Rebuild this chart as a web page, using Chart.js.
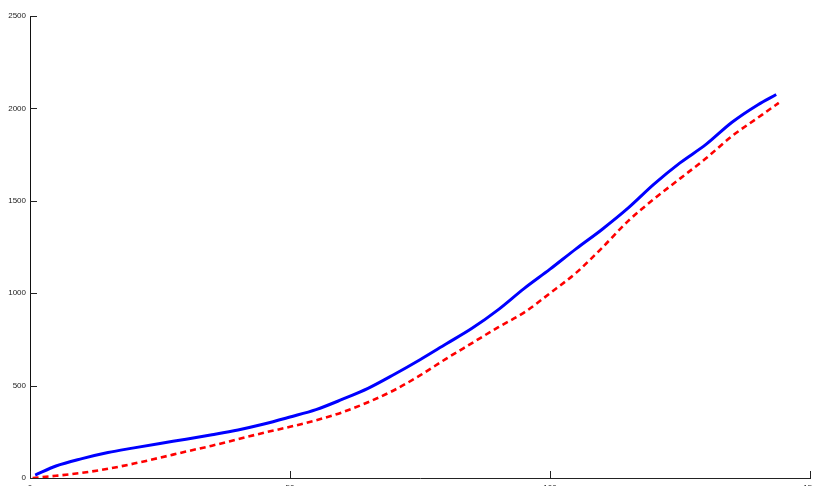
<!DOCTYPE html>
<html>
<head>
<meta charset="utf-8">
<script src="https://cdn.jsdelivr.net/npm/chart.js@4"></script>
<style>
    html, body { margin: 0; padding: 0; background: #fff; overflow: hidden; }
    .wrap { width: 813px; height: 486px; }
</style>
</head>
<body>
<div class="wrap"><canvas id="lineChart"></canvas></div>
<script>
// values
const blueX = [1, 5, 10, 15, 20, 25, 30, 35, 40, 45, 50, 55, 60, 65, 70, 75, 80, 85, 90, 95, 100, 105, 110, 115, 120, 125, 130, 135, 140, 143.5];
const blueY = [16, 65, 105, 138, 163, 187, 210, 234, 260, 292, 330, 370, 425, 485, 560, 640, 725, 810, 910, 1025, 1130, 1240, 1345, 1460, 1590, 1705, 1805, 1925, 2020, 2075];
const redX = [0.5, 5, 10, 15, 20, 25, 30, 35, 40, 45, 50, 55, 60, 65, 70, 75, 80, 85, 90, 95, 100, 105, 110, 115, 120, 125, 130, 135, 140, 144];
const redY = [0, 12, 28, 50, 78, 110, 143, 175, 210, 245, 277, 312, 355, 410, 475, 555, 645, 730, 815, 895, 1000, 1110, 1245, 1390, 1510, 1620, 1730, 1850, 1950, 2030];
const xTicks = [0, 50, 100, 150];
const yTicks = [0, 500, 1000, 1500, 2000, 2500];

const toPoints = (xs, ys) => xs.map((x, i) => ({ x: x, y: ys[i] }));

// matlab style ticks pointing into the plot
const inwardTicks = {
    id: 'inwardTicks',
    afterDraw(c) {
        const ctx = c.ctx, a = c.chartArea;
        const len = 7;
        ctx.save();
        ctx.strokeStyle = '#222';
        ctx.lineWidth = 1;
        ctx.beginPath();
        xTicks.forEach(v => {
            const px = Math.round(c.scales.x.getPixelForValue(v)) + 0.5;
            ctx.moveTo(px, a.bottom);
            ctx.lineTo(px, a.bottom - len);
        });
        yTicks.forEach(v => {
            const py = Math.round(c.scales.y.getPixelForValue(v)) + 0.5;
            ctx.moveTo(a.left, py);
            ctx.lineTo(a.left + len, py);
        });
        ctx.stroke();
        ctx.restore();
    }
};

const tickFont = { family: 'Liberation Sans, Arial, sans-serif', size: 8 };
const noPad = s => { s.paddingLeft = 0; s.paddingRight = 0; s.paddingTop = 0; s.paddingBottom = 0; };

new Chart(document.getElementById('lineChart'), {
    type: 'line',
    data: {
        datasets: [
            { data: toPoints(blueX, blueY), borderColor: '#0000ff', borderWidth: 3, pointRadius: 0, cubicInterpolationMode: 'monotone', fill: false },
            { data: toPoints(redX, redY), borderColor: '#ff0000', borderWidth: 2.6, borderDash: [6, 4], pointRadius: 0, cubicInterpolationMode: 'monotone', fill: false }
        ]
    },
    options: {
        responsive: true,
        maintainAspectRatio: false,
        animation: false,
        layout: { padding: { top: 16, right: 3, left: 0, bottom: 0 } },
        plugins: { legend: { display: false }, tooltip: { enabled: false } },
        scales: {
            x: {
                type: 'linear', min: 0, max: 150,
                afterBuildTicks: s => { s.ticks = xTicks.map(v => ({ value: v })); },
                afterFit: s => { s.height = 8; noPad(s); },
                grid: { display: false, drawTicks: false },
                border: { display: true, color: '#222', width: 1 },
                ticks: { font: tickFont, color: '#222', padding: 5, maxRotation: 0, callback: v => String(v) }
            },
            y: {
                type: 'linear', min: 0, max: 2500,
                afterBuildTicks: s => { s.ticks = yTicks.map(v => ({ value: v })); },
                afterFit: s => { s.width = 30; noPad(s); },
                grid: { display: false, drawTicks: false },
                border: { display: true, color: '#111', width: 1 },
                ticks: { font: tickFont, color: '#222', padding: 4, callback: v => String(v) }
            }
        }
    },
    plugins: [inwardTicks]
});
</script>
</body>
</html>
